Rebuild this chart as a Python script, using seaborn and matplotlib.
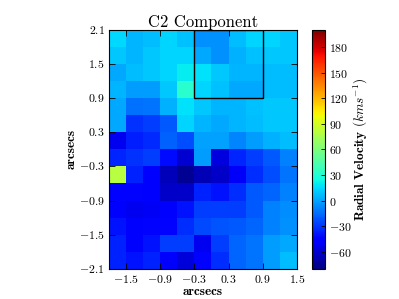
import numpy as np
import matplotlib
matplotlib.use('Agg')
import matplotlib.pyplot as plt
import seaborn as sns
from matplotlib.patches import Rectangle

# Grid geometry (arcsecs)
x_start = -1.8
y_top = 2.1
cell = 0.3

x_ticks = [-1.5, -0.9, -0.3, 0.3, 0.9, 1.5]
y_ticks = [2.1, 1.5, 0.9, 0.3, -0.3, -0.9, -1.5, -2.1]
cbar_ticks = [-60, -30, 0, 30, 60, 90, 120, 150, 180]
v_min, v_max = -80, 200

# Region outlined on the map (arcsecs)
box_x = [-0.3, 0.9]
box_y = [0.9, 2.1]

# Radial velocity (km/s), rows from top (2.1) to bottom (-2.1)
velocity = np.array([
    [15, 5, 7, 13, 8, -5, -5, 7, 13, 13, 10],
    [10, 5, 10, 13, 13, 2, -5, 4, 8, 10, 10],
    [2, 7, 10, 14, 20, 17, 10, 5, 5, 7, 7],
    [5, -2, -2, 10, 32, 13, 8, 2, 2, 7, 7],
    [2, -14, -13, 4, 17, 10, 5, 5, 8, 10, 10],
    [2, -31, -28, -20, 14, 5, 2, 5, 7, 10, 10],
    [-52, -37, -33, -18, -24, -1, -1, -8, -2, 4, 7],
    [-35, -31, -28, -42, -60, -2, -57, -35, -28, -20, -10],
    [80, -36, -48, -65, -75, -66, -62, -50, -32, -24, -13],
    [-45, -44, -48, -62, -62, -36, -40, -32, -20, -17, -9],
    [-48, -52, -51, -48, -40, -28, -28, -28, -20, -9, -6],
    [-40, -48, -45, -44, -32, -25, -22, -20, -17, -9, -5],
    [-36, -48, -40, -28, -28, -52, -28, -17, -13, -2, 1],
    [-36, -40, -36, -48, -58, -45, -32, -17, -13, -2, 7],
])

plt.rcParams['font.family'] = 'serif'
plt.rcParams['font.serif'] = ['cmr10', 'DejaVu Serif']
plt.rcParams['mathtext.fontset'] = 'cm'
plt.rcParams['axes.formatter.use_mathtext'] = True


def to_col(x):
    return (x - x_start) / cell


def to_row(y):
    return (y_top - y) / cell


def tick_label(v):
    return f'${v:g}$'


fig = plt.figure(figsize=(3.99, 2.99), dpi=100)
ax = fig.add_axes([0.273, 0.101, 0.471, 0.799])
cax = fig.add_axes([0.782, 0.101, 0.033, 0.799])

sns.heatmap(velocity, ax=ax, cbar_ax=cax, cmap='jet', vmin=v_min, vmax=v_max,
            cbar_kws={'ticks': cbar_ticks})

# Outline box
ax.add_patch(Rectangle((to_col(box_x[0]), to_row(box_y[1])),
                       to_col(box_x[1]) - to_col(box_x[0]),
                       to_row(box_y[0]) - to_row(box_y[1]),
                       fill=False, edgecolor='black', lw=1.0))

for sp in ax.spines.values():
    sp.set_visible(True)
    sp.set_linewidth(0.8)
    sp.set_color('black')

ax.set_xticks([to_col(v) for v in x_ticks])
ax.set_xticklabels([tick_label(v) for v in x_ticks], rotation=0, fontsize=8.5)
ax.set_yticks([to_row(v) for v in y_ticks])
ax.set_yticklabels([tick_label(v) for v in y_ticks], rotation=0, fontsize=8.5)
ax.tick_params(direction='in', top=True, right=True, length=4, width=0.6,
               color='black', pad=3)

ax.set_xlabel('arcsecs', fontsize=9.5, family='cmb10', labelpad=1)
ax.set_ylabel('arcsecs', fontsize=9.5, family='cmb10', labelpad=1)
ax.set_title('C2 Component', fontsize=12, pad=2)

cbar = ax.collections[0].colorbar
cbar.outline.set_visible(True)
cbar.outline.set_linewidth(0.8)
cbar.outline.set_edgecolor('black')
cbar.set_ticks(cbar_ticks)
cbar.set_ticklabels([tick_label(v) for v in cbar_ticks])
cbar.ax.tick_params(labelsize=8.5, direction='in', length=3, width=0.6,
                    color='black', pad=3)
cbar.set_label(r'Radial Velocity $(kms^{-1})$', fontsize=9.5, family='cmb10',
               labelpad=0)

fig.savefig('out.png', dpi=100)
